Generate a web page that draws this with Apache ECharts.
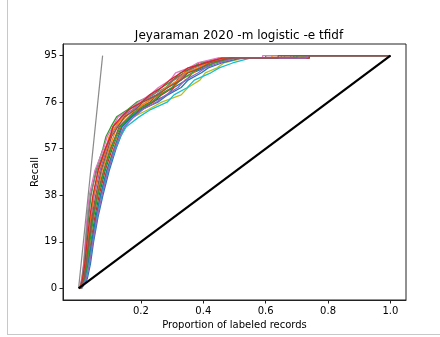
<!DOCTYPE html>
<html>
<head>
<meta charset="utf-8">
<script src="https://cdn.jsdelivr.net/npm/echarts@6/dist/echarts.min.js"></script>
<style>
  html, body { margin: 0; padding: 0; background: #fff; }
  #chart { width: 440px; height: 337px; }
</style>
</head>
<body>
<div id="chart"></div>
<script>
// recall levels (number of relevant records found)
var levels = [0, 4, 10, 19, 29, 38, 48, 57, 62, 66, 70, 73, 76, 79, 82, 85, 88, 90, 92, 94, 95];

// proportion of labeled records at which each run reaches each level
var runs = [
  [0.010, 0.028, 0.038, 0.048, 0.062, 0.078, 0.098, 0.120, 0.135, 0.150, 0.172, 0.205, 0.236, 0.284, 0.306, 0.345, 0.366, 0.404, 0.436, 0.500, 0.680],
  [0.006, 0.018, 0.026, 0.035, 0.045, 0.058, 0.075, 0.098, 0.112, 0.123, 0.152, 0.178, 0.219, 0.256, 0.304, 0.326, 0.369, 0.386, 0.434, 0.490, 0.700],
  [0.005, 0.012, 0.018, 0.024, 0.032, 0.040, 0.055, 0.078, 0.088, 0.104, 0.122, 0.158, 0.186, 0.239, 0.266, 0.304, 0.326, 0.364, 0.386, 0.460, 0.650],
  [0.008, 0.020, 0.030, 0.040, 0.052, 0.066, 0.085, 0.108, 0.124, 0.138, 0.168, 0.196, 0.239, 0.266, 0.304, 0.316, 0.349, 0.366, 0.404, 0.450, 0.740],
  [0.004, 0.015, 0.022, 0.030, 0.040, 0.050, 0.068, 0.090, 0.102, 0.120, 0.137, 0.174, 0.201, 0.249, 0.286, 0.324, 0.346, 0.389, 0.416, 0.480, 0.720],
  [0.007, 0.016, 0.025, 0.033, 0.046, 0.060, 0.080, 0.102, 0.118, 0.130, 0.161, 0.186, 0.229, 0.251, 0.284, 0.301, 0.339, 0.361, 0.399, 0.470, 0.600],
  [0.003, 0.010, 0.016, 0.021, 0.027, 0.034, 0.052, 0.080, 0.092, 0.110, 0.127, 0.164, 0.191, 0.229, 0.256, 0.294, 0.311, 0.354, 0.381, 0.445, 0.590],
  [0.004, 0.011, 0.017, 0.023, 0.030, 0.038, 0.058, 0.085, 0.100, 0.112, 0.141, 0.164, 0.204, 0.236, 0.279, 0.306, 0.344, 0.371, 0.414, 0.475, 0.660],
  [0.009, 0.022, 0.032, 0.042, 0.056, 0.070, 0.090, 0.112, 0.126, 0.148, 0.176, 0.224, 0.266, 0.329, 0.351, 0.389, 0.406, 0.444, 0.466, 0.530, 0.710],
  [0.007, 0.024, 0.034, 0.044, 0.058, 0.072, 0.094, 0.118, 0.134, 0.153, 0.194, 0.231, 0.284, 0.306, 0.349, 0.371, 0.424, 0.451, 0.494, 0.550, 0.740],
  [0.006, 0.020, 0.030, 0.042, 0.055, 0.070, 0.090, 0.114, 0.128, 0.140, 0.171, 0.201, 0.254, 0.286, 0.329, 0.351, 0.394, 0.416, 0.459, 0.520, 0.700],
  [0.005, 0.014, 0.021, 0.029, 0.038, 0.048, 0.064, 0.088, 0.098, 0.118, 0.143, 0.189, 0.216, 0.254, 0.281, 0.319, 0.341, 0.384, 0.411, 0.465, 0.620],
  [0.008, 0.019, 0.027, 0.036, 0.048, 0.062, 0.082, 0.104, 0.120, 0.134, 0.165, 0.191, 0.234, 0.261, 0.299, 0.326, 0.364, 0.391, 0.434, 0.490, 0.690],
  [0.005, 0.013, 0.020, 0.027, 0.036, 0.046, 0.062, 0.086, 0.102, 0.110, 0.137, 0.161, 0.202, 0.228, 0.266, 0.292, 0.329, 0.351, 0.409, 0.460, 0.740],
  [0.009, 0.025, 0.035, 0.046, 0.060, 0.075, 0.095, 0.116, 0.132, 0.146, 0.178, 0.206, 0.249, 0.281, 0.319, 0.341, 0.384, 0.406, 0.449, 0.505, 0.730],
  [0.006, 0.017, 0.024, 0.032, 0.043, 0.055, 0.072, 0.094, 0.106, 0.126, 0.147, 0.182, 0.206, 0.254, 0.286, 0.329, 0.351, 0.394, 0.421, 0.485, 0.640]
];

var totalRelevant = 95;
var perfectEnd = 0.077;   // proportion where the perfect line hits full recall
var xTicks = [0.2, 0.4, 0.6, 0.8, 1.0];
var yTicks = [0, 19, 38, 57, 76, 95];

var tab10 = ['#1f77b4', '#ff7f0e', '#2ca02c', '#d62728', '#9467bd',
             '#8c564b', '#e377c2', '#7f7f7f', '#bcbd22', '#17becf'];

var series = [];
runs.forEach(function (run, k) {
  var n = levels.length;
  var data = [];
  for (var i = 0; i < n - 1; i++) data.push([run[i], levels[i]]);
  // last relevant record: flat until found, then jump
  data.push([run[n - 1], levels[n - 2]]);
  data.push([run[n - 1], levels[n - 1]]);
  data.push([1.0, totalRelevant]);
  series.push({
    type: 'line', showSymbol: false, silent: true,
    data: data,
    lineStyle: { width: 1.3, color: tab10[k % 10] }
  });
});

// perfect line
series.push({
  type: 'line', showSymbol: false, silent: true,
  data: [[0, 0], [perfectEnd, totalRelevant]],
  lineStyle: { width: 1.2, color: '#8a8a8a' }
});
// random line
series.push({
  type: 'line', showSymbol: false, silent: true,
  data: [[0, 0], [1.0, totalRelevant]],
  lineStyle: { width: 2.2, color: '#000' }
});

var font = 'DejaVu Sans';
var option = {
  animation: false,
  backgroundColor: '#fff',
  title: {
    text: 'Jeyaraman 2020 -m logistic -e tfidf',
    left: 234, top: 25, textAlign: 'center',
    textStyle: { fontFamily: font, fontSize: 12, fontWeight: 'normal', color: '#000' }
  },
  grid: { left: 63, right: 34, top: 44, bottom: 37, show: true, borderColor: '#222', borderWidth: 1 },
  xAxis: {
    type: 'value', min: -0.05, max: 1.05,
    name: 'Proportion of labeled records', nameLocation: 'middle', nameGap: 20,
    nameMoveOverlap: false,
    nameTextStyle: { fontFamily: font, fontSize: 10, color: '#000' },
    splitLine: { show: false },
    axisLine: { show: true, onZero: false, lineStyle: { color: '#222' } },
    axisTick: { show: true, length: 3.5, customValues: xTicks, lineStyle: { color: '#222' } },
    axisLabel: {
      customValues: xTicks, margin: 6, fontFamily: font, fontSize: 10, color: '#000',
      formatter: function (v) { return v.toFixed(1); }
    }
  },
  yAxis: {
    type: 'value', min: -4.75, max: 99.75,
    name: 'Recall', nameLocation: 'middle', nameGap: 23,
    nameMoveOverlap: false,
    nameTextStyle: { fontFamily: font, fontSize: 10, color: '#000' },
    splitLine: { show: false },
    axisLine: { show: true, onZero: false, lineStyle: { color: '#222' } },
    axisTick: { show: true, length: 3.5, customValues: yTicks, lineStyle: { color: '#222' } },
    axisLabel: { customValues: yTicks, margin: 6, fontFamily: font, fontSize: 10, color: '#000' }
  },
  graphic: [
    { type: 'line', shape: { x1: 7.5, y1: 0, x2: 7.5, y2: 335 }, style: { stroke: '#c8c8c8', lineWidth: 1 } },
    { type: 'line', shape: { x1: 7.5, y1: 334.5, x2: 440, y2: 334.5 }, style: { stroke: '#c8c8c8', lineWidth: 1 } }
  ],
  series: series
};

var chart = echarts.init(document.getElementById('chart'), null, { renderer: 'canvas' });
chart.setOption(option);
</script>
</body>
</html>
